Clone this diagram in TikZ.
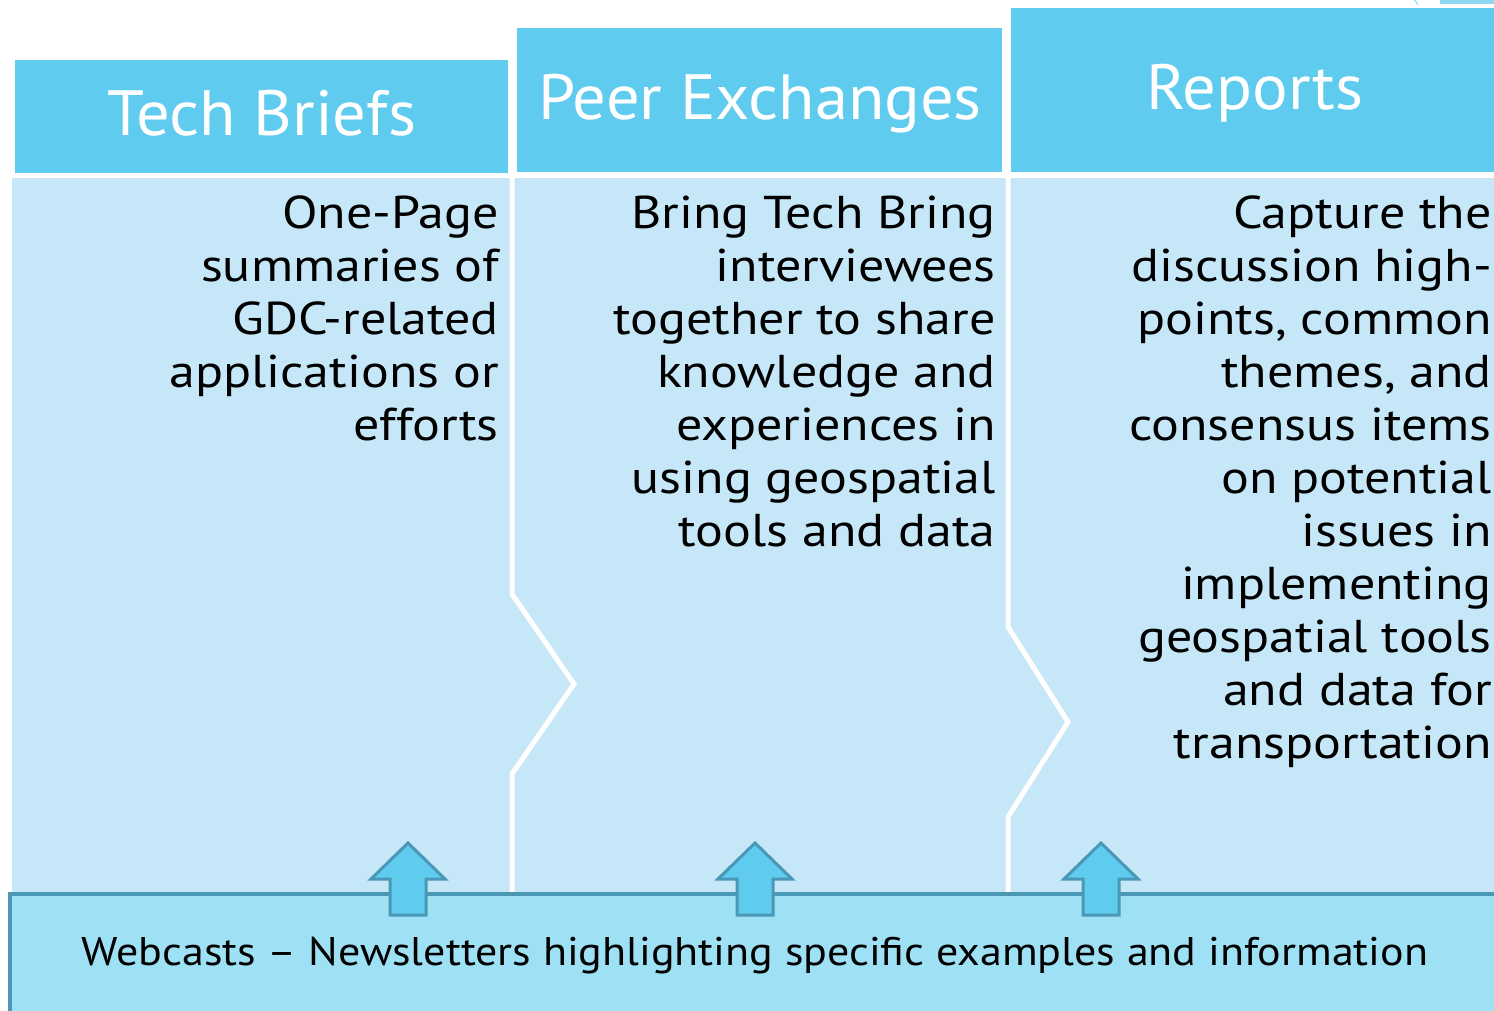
\documentclass[tikz,border=0pt]{standalone}
\usepackage{fontspec}
\setmainfont{PT Sans}
\newfontfamily\headfont[FakeStretch=1.04]{PT Sans}
\newfontfamily\bodyfont[FakeStretch=1.13]{PT Sans}
\newfontfamily\barfont[FakeStretch=1.10]{PT Sans}
\definecolor{headblue}{HTML}{5FCBEF}
\definecolor{bodyblue}{HTML}{C6E7F7}
\definecolor{barblue}{HTML}{9EE0F4}
\definecolor{edgeteal}{HTML}{4A98B5}
\definecolor{faint}{HTML}{8FD6F0}
\tikzset{
  headbox/.style={fill=headblue, draw=none},
  headtext/.style={text=white, font=\headfont\fontsize{64}{70}\selectfont, inner sep=0pt, anchor=base},
  bodytext/.style={text=black, font=\bodyfont\fontsize{46}{53}\selectfont, align=right, inner sep=0pt, anchor=north east},
  sepline/.style={draw=white, line width=5pt, line join=miter},
  uparrow/.style={fill=headblue, draw=edgeteal, line width=3pt, line join=miter},
  bartext/.style={text=black, font=\barfont\fontsize{40}{46}\selectfont, inner sep=0pt, anchor=base}
}
\begin{document}
\begin{tikzpicture}[x=1pt,y=-1pt]
\useasboundingbox (0,0) rectangle (1494,1011);
% body panel
\fill[bodyblue] (12,178) rectangle (1494,900);
% separators between panels (chevrons)
\draw[sepline] (512,176) -- (512,594) -- (574,684) -- (512,774) -- (512,900);
\draw[sepline] (1008,176) -- (1008,627) -- (1068,722) -- (1008,817) -- (1008,900);
% headers
\fill[headbox] (15,60) rectangle (508,173);
\fill[headbox] (517,28) rectangle (1002,172);
\fill[headbox] (1011,8) rectangle (1500,172);
% top-right fragment
\fill[faint] (1440,-2) rectangle (1500,4);
\draw[faint, line width=1pt] (1414,-1) -- (1418,5);
\node[headtext] (h1) at (262,136) {Tech Briefs};
\node[headtext] (h2) at (760,120) {Peer Exchanges};
\node[headtext] (h3) at (1255,110) {Reports};
% body texts
\node[bodytext] (t1) at (499,196) {One-Page\\summaries of\\GDC-related\\applications or\\efforts};
\node[bodytext] (t2) at (996,196) {Bring Tech Bring\\interviewees\\together to share\\knowledge and\\experiences in\\using geospatial\\tools and data};
\node[bodytext] (t3) at (1492,196) {Capture the\\discussion high-\\points, common\\themes, and\\consensus items\\on potential\\issues in\\implementing\\geospatial tools\\and data for\\transportation};
% bottom bar
\draw[fill=barblue, draw=edgeteal, line width=3.5pt] (10,894) rectangle (1510,1020);
\node[bartext] (bt) at (755,965) {Webcasts – Newsletters highlighting specific examples and information};
% arrows
\foreach \cx/\nm in {408/a1, 755/a2, 1101/a3}{
  \draw[uparrow] (\cx,843) -- (\cx+37,879) -- (\cx+18,879) -- (\cx+18,915) -- (\cx-18,915) -- (\cx-18,879) -- (\cx-37,879) -- cycle;
  \coordinate (\nm) at (\cx,843);
}
\end{tikzpicture}
\end{document}
